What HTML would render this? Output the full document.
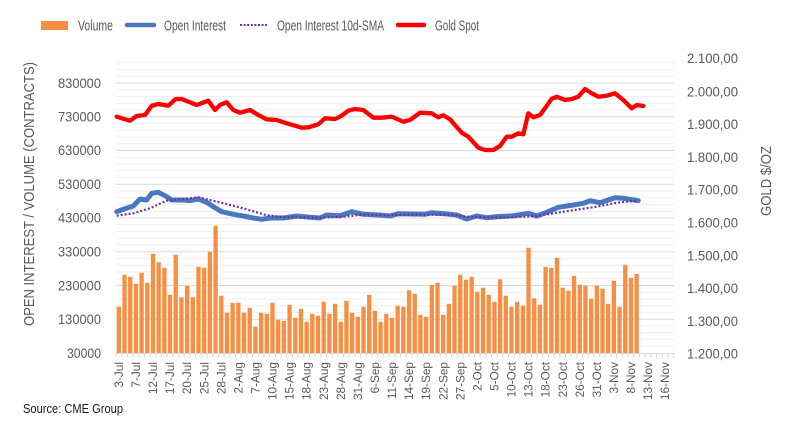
<!DOCTYPE html>
<html><head><meta charset="utf-8"><style>
html,body{margin:0;padding:0;background:#fff;}
svg{display:block;}
text{font-family:"Liberation Sans",Arial,sans-serif;fill:#595959;}
</style></head><body>
<svg width="788" height="430" viewBox="0 0 788 430" xmlns="http://www.w3.org/2000/svg">
<rect width="788" height="430" fill="#fff"/>
<!-- minor gridlines -->
<path stroke="#efefef" stroke-width="1" fill="none" d="M116 346.25H674M116 339.5H674M116 332.75H674M116 326H674M116 312.5H674M116 305.75H674M116 299H674M116 292.25H674M116 278.75H674M116 272H674M116 265.25H674M116 258.5H674M116 245H674M116 238.25H674M116 231.5H674M116 224.75H674M116 211.25H674M116 204.5H674M116 197.75H674M116 191H674M116 177.5H674M116 170.75H674M116 164H674M116 157.25H674M116 143.75H674M116 137H674M116 130.25H674M116 123.5H674M116 110H674M116 103.25H674M116 96.5H674M116 89.75H674M116 76.25H674M116 69.5H674M116 62.75H674"/>
<!-- major gridlines -->
<path stroke="#d9d9d9" stroke-width="1" fill="none" d="M116 319.25H674M116 285.5H674M116 251.75H674M116 218H674M116 184.25H674M116 150.5H674M116 116.75H674M116 83H674"/>
<!-- bars -->
<path fill="#F78F43" d="M116.7 306.7h4.3V353h-4.3zM122.39 274.7h4.3V353h-4.3zM128.08 276.7h4.3V353h-4.3zM133.77 283.7h4.3V353h-4.3zM139.46 272.7h4.3V353h-4.3zM145.15 282.7h4.3V353h-4.3zM150.84 253.7h4.3V353h-4.3zM156.53 262.3h4.3V353h-4.3zM162.22 267.7h4.3V353h-4.3zM167.91 294.7h4.3V353h-4.3zM173.6 254.7h4.3V353h-4.3zM179.29 297.3h4.3V353h-4.3zM184.98 285.7h4.3V353h-4.3zM190.67 297.3h4.3V353h-4.3zM196.36 266.7h4.3V353h-4.3zM202.05 267.7h4.3V353h-4.3zM207.74 251.7h4.3V353h-4.3zM213.43 225.7h4.3V353h-4.3zM219.12 295.7h4.3V353h-4.3zM224.81 312.7h4.3V353h-4.3zM230.5 302.7h4.3V353h-4.3zM236.19 302.7h4.3V353h-4.3zM241.88 312.7h4.3V353h-4.3zM247.57 307.7h4.3V353h-4.3zM253.26 326.7h4.3V353h-4.3zM258.95 312.7h4.3V353h-4.3zM264.64 313.7h4.3V353h-4.3zM270.33 302.7h4.3V353h-4.3zM276.02 319.7h4.3V353h-4.3zM281.71 321h4.3V353h-4.3zM287.4 304.7h4.3V353h-4.3zM293.09 317.7h4.3V353h-4.3zM298.78 308.7h4.3V353h-4.3zM304.47 321.7h4.3V353h-4.3zM310.16 313.7h4.3V353h-4.3zM315.85 315.7h4.3V353h-4.3zM321.54 301.7h4.3V353h-4.3zM327.23 313.7h4.3V353h-4.3zM332.92 303.7h4.3V353h-4.3zM338.61 321.7h4.3V353h-4.3zM344.3 300.7h4.3V353h-4.3zM349.99 312.7h4.3V353h-4.3zM355.68 316.7h4.3V353h-4.3zM361.37 306.7h4.3V353h-4.3zM367.06 294.7h4.3V353h-4.3zM372.75 310.7h4.3V353h-4.3zM378.44 321.7h4.3V353h-4.3zM384.13 313.7h4.3V353h-4.3zM389.82 317.7h4.3V353h-4.3zM395.51 305.7h4.3V353h-4.3zM401.2 306.7h4.3V353h-4.3zM406.89 290.3h4.3V353h-4.3zM412.58 293.7h4.3V353h-4.3zM418.27 314.7h4.3V353h-4.3zM423.96 316.7h4.3V353h-4.3zM429.65 284.7h4.3V353h-4.3zM435.34 282.7h4.3V353h-4.3zM441.03 314.7h4.3V353h-4.3zM446.72 303.7h4.3V353h-4.3zM452.41 285.7h4.3V353h-4.3zM458.1 274.7h4.3V353h-4.3zM463.79 279.7h4.3V353h-4.3zM469.48 276.7h4.3V353h-4.3zM475.17 291.7h4.3V353h-4.3zM480.86 287.7h4.3V353h-4.3zM486.55 294.7h4.3V353h-4.3zM492.24 301.7h4.3V353h-4.3zM497.93 279.3h4.3V353h-4.3zM503.62 295.7h4.3V353h-4.3zM509.31 306.7h4.3V353h-4.3zM515 301.7h4.3V353h-4.3zM520.69 305.7h4.3V353h-4.3zM526.38 247.7h4.3V353h-4.3zM532.07 298.3h4.3V353h-4.3zM537.76 304.7h4.3V353h-4.3zM543.45 266.7h4.3V353h-4.3zM549.14 267.7h4.3V353h-4.3zM554.83 257.7h4.3V353h-4.3zM560.52 287.7h4.3V353h-4.3zM566.21 290.7h4.3V353h-4.3zM571.9 275.7h4.3V353h-4.3zM577.59 284.7h4.3V353h-4.3zM583.28 285.7h4.3V353h-4.3zM588.97 298.7h4.3V353h-4.3zM594.66 285.7h4.3V353h-4.3zM600.35 288.7h4.3V353h-4.3zM606.04 303.7h4.3V353h-4.3zM611.73 280.7h4.3V353h-4.3zM617.42 306.7h4.3V353h-4.3zM623.11 264.7h4.3V353h-4.3zM628.8 277.7h4.3V353h-4.3zM634.49 274h4.3V353h-4.3z"/>
<!-- axis line + ticks -->
<path stroke="#d9d9d9" stroke-width="1" fill="none" d="M116 353.5H674"/>
<path stroke="#d9d9d9" stroke-width="1" fill="none" d="M116 353v5M121.69 353v5M127.38 353v5M133.07 353v5M138.76 353v5M144.45 353v5M150.14 353v5M155.83 353v5M161.52 353v5M167.21 353v5M172.9 353v5M178.59 353v5M184.28 353v5M189.97 353v5M195.66 353v5M201.35 353v5M207.04 353v5M212.73 353v5M218.42 353v5M224.11 353v5M229.8 353v5M235.49 353v5M241.18 353v5M246.87 353v5M252.56 353v5M258.25 353v5M263.94 353v5M269.63 353v5M275.32 353v5M281.01 353v5M286.7 353v5M292.39 353v5M298.08 353v5M303.77 353v5M309.46 353v5M315.15 353v5M320.84 353v5M326.53 353v5M332.22 353v5M337.91 353v5M343.6 353v5M349.29 353v5M354.98 353v5M360.67 353v5M366.36 353v5M372.05 353v5M377.74 353v5M383.43 353v5M389.12 353v5M394.81 353v5M400.5 353v5M406.19 353v5M411.88 353v5M417.57 353v5M423.26 353v5M428.95 353v5M434.64 353v5M440.33 353v5M446.02 353v5M451.71 353v5M457.4 353v5M463.09 353v5M468.78 353v5M474.47 353v5M480.16 353v5M485.85 353v5M491.54 353v5M497.23 353v5M502.92 353v5M508.61 353v5M514.3 353v5M519.99 353v5M525.68 353v5M531.37 353v5M537.06 353v5M542.75 353v5M548.44 353v5M554.13 353v5M559.82 353v5M565.51 353v5M571.2 353v5M576.89 353v5M582.58 353v5M588.27 353v5M593.96 353v5M599.65 353v5M605.34 353v5M611.03 353v5M616.72 353v5M622.41 353v5M628.1 353v5M633.79 353v5M639.48 353v5M645.17 353v5M650.86 353v5M656.55 353v5M662.24 353v5M667.93 353v5M673.62 353v5"/>
<!-- Open interest -->
<polyline fill="none" stroke="#4A78BE" stroke-width="5" stroke-linejoin="round" stroke-linecap="round" points="116.7,211.7 123.3,209.3 133.3,206 140,199 146.7,200 151.7,193.3 158.3,192.3 165,195.7 171.7,200 183.3,200 190,200.7 198.3,199 206.7,202.3 213.3,206.7 221.7,211.7 233.3,214.3 243.3,216 253.3,218 261.7,219.3 270,218 283.3,218 296.7,216 310,217.3 320,218 326.7,215 340,215.7 351.7,211.7 363.3,214.3 380,215 390,216 398.3,213.7 425,214.3 431.7,212.7 446.7,214 456.7,215 466.7,219 476.7,216 486.7,217.7 496.7,216.7 513.3,215.7 528.3,213.3 536.7,216 546.7,212.3 558.3,207.3 573.3,205 583.3,203.3 590,200.7 600,202.7 615,197.7 623.3,198.3 638.3,200.7"/>
<!-- SMA -->
<polyline fill="none" stroke="#7030A0" stroke-width="2.2" stroke-dasharray="2 2" points="116.7,215.7 133.3,213.3 150,208.3 166.7,200.7 183.3,199 198.3,197.3 210,200 226.7,204 246.7,209.3 266.7,215.3 286.7,217.3 320,217.7 343.3,216.7 360,215 380,215 453.3,214.7 466.7,216.7 503.3,217.7 536.7,216 563.3,211.7 596.7,206.7 616.7,202.7 636.7,200.7"/>
<!-- Gold -->
<polyline fill="none" stroke="#FF0000" stroke-width="4.3" stroke-linejoin="round" stroke-linecap="round" points="116.7,116.7 130,120.7 136.7,116 145,115 151.7,105.7 158.3,104 168.3,105.7 175.7,99 181.7,99 196.7,105 208.3,100.7 215,110 220,105 226.7,102.3 233.3,110 240,112.7 250,110 258.3,115 266.7,119.3 276.7,120 286.7,123.3 301.7,127.7 308.3,127.3 318.3,124.3 325,118.3 335,119 341.7,115.7 348.3,110.7 355,109 363.3,110 373.3,117.7 381.7,117.7 391.7,116.7 403.3,121.7 410,120 420,112.7 431.7,113.3 438.3,117.3 443.3,115.3 450,119.3 461.7,132.7 468.3,136.7 478.3,147.7 485,150 493.3,150 500,146 506.7,136.7 511.7,136.7 518.3,133.3 523.3,134.3 528.3,113.3 533.3,117.3 540,115 545,108.3 551.7,98.7 556.7,96.7 565,100 571.7,99 578.3,96.7 585,89 591.7,93.3 598.3,96.7 606.7,95.7 615,93.3 623.3,100 631.7,108.3 636.7,105 643.3,106"/>
<!-- left axis labels -->
<g font-size="13.5" text-anchor="end">
<text x="101" y="88" textLength="43" lengthAdjust="spacingAndGlyphs">830000</text>
<text x="101" y="121.5" textLength="43" lengthAdjust="spacingAndGlyphs">730000</text>
<text x="101" y="155" textLength="43" lengthAdjust="spacingAndGlyphs">630000</text>
<text x="101" y="189" textLength="43" lengthAdjust="spacingAndGlyphs">530000</text>
<text x="101" y="222.5" textLength="43" lengthAdjust="spacingAndGlyphs">430000</text>
<text x="101" y="256.5" textLength="43" lengthAdjust="spacingAndGlyphs">330000</text>
<text x="101" y="290.5" textLength="43" lengthAdjust="spacingAndGlyphs">230000</text>
<text x="101" y="324" textLength="43" lengthAdjust="spacingAndGlyphs">130000</text>
<text x="101" y="358" textLength="34" lengthAdjust="spacingAndGlyphs">30000</text>
</g>
<!-- right axis labels -->
<g font-size="13.5">
<text x="687" y="63" textLength="51" lengthAdjust="spacingAndGlyphs">2.100,00</text>
<text x="687" y="96.5" textLength="51" lengthAdjust="spacingAndGlyphs">2.000,00</text>
<text x="687" y="129" textLength="51" lengthAdjust="spacingAndGlyphs">1.900,00</text>
<text x="687" y="162" textLength="51" lengthAdjust="spacingAndGlyphs">1.800,00</text>
<text x="687" y="194.5" textLength="51" lengthAdjust="spacingAndGlyphs">1.700,00</text>
<text x="687" y="227.5" textLength="51" lengthAdjust="spacingAndGlyphs">1.600,00</text>
<text x="687" y="260.5" textLength="51" lengthAdjust="spacingAndGlyphs">1.500,00</text>
<text x="687" y="293" textLength="51" lengthAdjust="spacingAndGlyphs">1.400,00</text>
<text x="687" y="326" textLength="51" lengthAdjust="spacingAndGlyphs">1.300,00</text>
<text x="687" y="358.5" textLength="51" lengthAdjust="spacingAndGlyphs">1.200,00</text>
</g>
<!-- axis titles -->
<text font-size="14.5" text-anchor="middle" transform="translate(34,194) rotate(-90)" textLength="264" lengthAdjust="spacingAndGlyphs">OPEN INTEREST / VOLUME (CONTRACTS)</text>
<text font-size="15" text-anchor="middle" transform="translate(771,181) rotate(-90)" textLength="70" lengthAdjust="spacingAndGlyphs">GOLD $/OZ</text>
<!-- x labels -->
<g font-size="11.8" text-anchor="end" style="fill:#505050">
<text transform="translate(123,362) rotate(-90)">3-Jul</text>
<text transform="translate(140,362) rotate(-90)">7-Jul</text>
<text transform="translate(157.1,362) rotate(-90)">12-Jul</text>
<text transform="translate(174.2,362) rotate(-90)">17-Jul</text>
<text transform="translate(191.2,362) rotate(-90)">20-Jul</text>
<text transform="translate(208.3,362) rotate(-90)">25-Jul</text>
<text transform="translate(225.4,362) rotate(-90)">28-Jul</text>
<text transform="translate(242.4,362) rotate(-90)">2-Aug</text>
<text transform="translate(259.5,362) rotate(-90)">7-Aug</text>
<text transform="translate(276.6,362) rotate(-90)">10-Aug</text>
<text transform="translate(293.7,362) rotate(-90)">15-Aug</text>
<text transform="translate(310.7,362) rotate(-90)">18-Aug</text>
<text transform="translate(327.8,362) rotate(-90)">23-Aug</text>
<text transform="translate(344.9,362) rotate(-90)">28-Aug</text>
<text transform="translate(361.9,362) rotate(-90)">31-Aug</text>
<text transform="translate(379,362) rotate(-90)">6-Sep</text>
<text transform="translate(396.1,362) rotate(-90)">11-Sep</text>
<text transform="translate(413.1,362) rotate(-90)">14-Sep</text>
<text transform="translate(430.2,362) rotate(-90)">19-Sep</text>
<text transform="translate(447.3,362) rotate(-90)">22-Sep</text>
<text transform="translate(464.4,362) rotate(-90)">27-Sep</text>
<text transform="translate(481.4,362) rotate(-90)">2-Oct</text>
<text transform="translate(498.5,362) rotate(-90)">5-Oct</text>
<text transform="translate(515.6,362) rotate(-90)">10-Oct</text>
<text transform="translate(532.6,362) rotate(-90)">13-Oct</text>
<text transform="translate(549.7,362) rotate(-90)">18-Oct</text>
<text transform="translate(566.8,362) rotate(-90)">23-Oct</text>
<text transform="translate(583.8,362) rotate(-90)">26-Oct</text>
<text transform="translate(600.9,362) rotate(-90)">31-Oct</text>
<text transform="translate(618,362) rotate(-90)">3-Nov</text>
<text transform="translate(635.1,362) rotate(-90)">8-Nov</text>
<text transform="translate(652.1,362) rotate(-90)">13-Nov</text>
<text transform="translate(669.2,362) rotate(-90)">16-Nov</text>
</g>
<!-- legend -->
<rect x="41" y="21" width="27" height="9" fill="#F78F43"/>
<text x="78" y="30.5" font-size="15" textLength="35" lengthAdjust="spacingAndGlyphs">Volume</text>
<line x1="127" y1="25" x2="154" y2="25" stroke="#4A78BE" stroke-width="4.5" stroke-linecap="round"/>
<text x="164" y="30.5" font-size="15" textLength="62" lengthAdjust="spacingAndGlyphs">Open Interest</text>
<line x1="240" y1="25" x2="267" y2="25" stroke="#7030A0" stroke-width="2" stroke-dasharray="2 1.6"/>
<text x="277" y="30.5" font-size="15" textLength="107" lengthAdjust="spacingAndGlyphs">Open Interest 10d-SMA</text>
<line x1="398" y1="25" x2="424" y2="25" stroke="#FF0000" stroke-width="4.5" stroke-linecap="round"/>
<text x="435" y="30.5" font-size="15" textLength="44" lengthAdjust="spacingAndGlyphs">Gold Spot</text>
<!-- source -->
<text x="23" y="413" font-size="12.5" style="fill:#1a1a1a" textLength="100" lengthAdjust="spacingAndGlyphs">Source: CME Group</text>
</svg>
</body></html>
